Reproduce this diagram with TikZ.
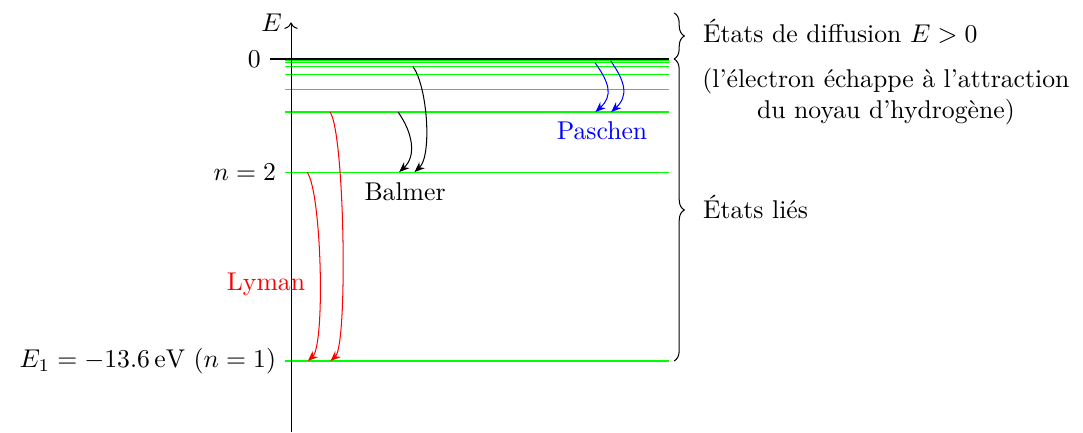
\documentclass[tikz,border=0pt]{standalone}
\usepackage{fontspec}
\usepackage{amsmath}
\usetikzlibrary{arrows.meta,positioning,calc,decorations.pathreplacing}
\tikzset{
  level/.style={green, line width=0.4pt},
  trans/.style={-{Stealth[length=4pt,width=3.2pt,inset=1.3pt]}, line width=0.4pt},
  span/.style={decorate, decoration={brace, amplitude=4pt}, line width=0.4pt},
  note/.style={anchor=west, inner sep=2pt},
  series/.style={inner sep=1pt},
}

\begin{document}
\begin{tikzpicture}
  \useasboundingbox (-3.981,-5.103) rectangle (10.834,0.807);
  % bound levels
  \foreach \n/\y in {1/-4.131,2/-1.546,3/-0.725,4/-0.414,5/-0.208,
                     6/-0.105,7/-0.051,8/-0.027,9/-0.014} {
    \draw[level] (-0.08,\y) coordinate (l\n) -- (5.17,\y);
  }
  % zero level and axis
  \draw (-0.29,0) coordinate (z0) -- (5.17,0);
  \node[left] (zero) at (z0) {$0$};
  \draw[->] (0,-5.103) -- (0,0.5) coordinate (etip);
  \node[left] (elab) at (etip) {$E$};
  \node[left] (n2) at (l2) {$n=2$};
  \node[left] (n1) at (l1) {$E_1=-13.6\,\mathrm{eV}\ (n=1)$};
  % transitions
  \coordinate (ly1s) at (0.22,-1.546);  \coordinate (ly1e) at (0.23,-4.131);
  \coordinate (ly2s) at (0.534,-0.725); \coordinate (ly2e) at (0.54,-4.131);
  \coordinate (ba1s) at (1.464,-0.725); \coordinate (ba1e) at (1.48,-1.546);
  \coordinate (ba2s) at (1.669,-0.105); \coordinate (ba2e) at (1.69,-1.546);
  \coordinate (pa1s) at (4.159,-0.051); \coordinate (pa1e) at (4.165,-0.725);
  \coordinate (pa2s) at (4.373,-0.027); \coordinate (pa2e) at (4.38,-0.725);
  \foreach \a/\b/\c in {ly1s/ly1e/red,ly2s/ly2e/red,ba1s/ba1e/black,
                        ba2s/ba2e/black,pa1s/pa1e/blue,pa2s/pa2e/blue} {
    \draw[trans, \c] (\a) .. controls +(0.2,-0.28) and +(0.24,0.22) .. (\b);
  }
  \node[series, red] (lyman) at (-0.342,-3.078) {Lyman};
  \node[series] (balmer) at (1.56,-1.82) {Balmer};
  \node[series, blue] (paschen) at (4.254,-0.985) {Paschen};
  % braces
  \coordinate (btop) at (5.24,0.63);
  \coordinate (bmid) at (5.24,0);
  \coordinate (bbot) at (5.24,-4.131);
  \draw[span] (btop) -- (bmid)
    node[midway, note, xshift=0.32cm, yshift=0.07cm] (diff) {États de diffusion $E>0$};
  \draw[span] (bmid) -- (bbot)
    node[midway, note, xshift=0.32cm, yshift=0.04cm] (lies) {États liés};
  \node[note, align=center] (diffnote) at (5.55,-0.51)
    {(l'électron échappe à l'attraction\\du noyau d'hydrogène)};
\end{tikzpicture}
\end{document}
